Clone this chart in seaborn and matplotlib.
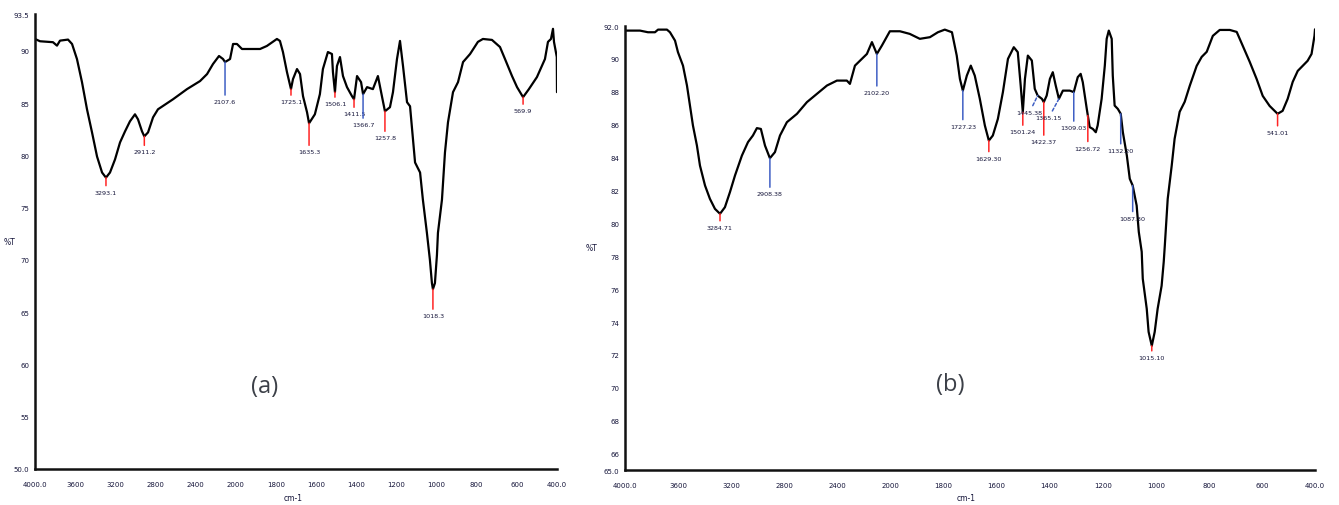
import numpy as np
import pandas as pd
import matplotlib
matplotlib.use("Agg")
import matplotlib.pyplot as plt
import seaborn as sns

# ---------------- FTIR spectrum (a) ----------------
wn_a = [4000, 3950, 3821, 3781, 3751, 3671, 3631, 3582, 3532, 3482, 3432, 3382,
        3332, 3293, 3253, 3203, 3153, 3103, 3054, 3004, 2974, 2934, 2911, 2874,
        2824, 2775, 2625, 2486, 2356, 2286, 2227, 2167, 2127, 2107, 2057, 2027,
        1994, 1969, 1879, 1845, 1795, 1780, 1765, 1745, 1725, 1715, 1695, 1680,
        1665, 1645, 1635, 1606, 1581, 1566, 1541, 1521, 1516, 1506, 1496, 1481,
        1466, 1446, 1421, 1411, 1396, 1376, 1366, 1346, 1317, 1292, 1272, 1257,
        1232, 1217, 1197, 1182, 1167, 1147, 1132, 1107, 1082, 1068, 1048, 1033,
        1023, 1018, 1008, 998, 993, 973, 958, 943, 918, 893, 868, 833, 794, 769,
        724, 684, 659, 624, 599, 569, 540, 500, 460, 445, 430, 420, 415, 401, 400]
t_a = [91.15, 90.93, 90.84, 90.51, 90.99, 91.09, 90.67, 89.23, 87.02, 84.42, 82.21, 79.90,
       78.37, 77.88, 78.37, 79.62, 81.25, 82.31, 83.27, 83.94, 83.46, 82.31, 81.83, 82.21,
       83.65, 84.42, 85.38, 86.35, 87.12, 87.79, 88.75, 89.52, 89.23, 88.94, 89.23, 90.67,
       90.67, 90.19, 90.19, 90.48, 91.15, 90.96, 89.90, 87.98, 86.35, 87.31, 88.27, 87.79,
       85.67, 84.13, 83.08, 83.94, 85.87, 88.27, 89.90, 89.71, 87.98, 86.06, 88.56, 89.42,
       87.60, 86.54, 85.67, 85.38, 87.60, 87.02, 85.87, 86.54, 86.35, 87.60, 85.67, 84.23,
       84.62, 86.06, 89.23, 90.96, 88.56, 85.10, 84.71, 79.33, 78.37, 75.77, 72.60, 70.00,
       67.79, 67.21, 67.79, 70.48, 72.60, 75.77, 80.29, 83.17, 86.06, 87.02, 88.94, 89.71,
       90.87, 91.15, 91.06, 90.38, 89.23, 87.60, 86.54, 85.58, 86.35, 87.50, 89.23, 90.87,
       91.15, 92.12, 90.87, 89.42, 86.06]

peaks_a = [3293, 2911, 2107, 1725, 1635, 1506, 1411, 1366, 1257, 1018, 569]
peak_labels_a = ["3293.1", "2911.2", "2107.6", "1725.1", "1635.3", "1506.1",
                 "1411.5", "1366.7", "1257.8", "1018.3", "569.9"]
peak_kind_a = ["red", "red", "blue", "red", "red", "red",
               "red", "blue", "red", "red", "red"]

# ---------------- FTIR spectrum (b) ----------------
wn_b = [4000, 3887, 3827, 3774, 3751, 3684, 3661, 3623, 3601, 3563, 3533, 3510,
        3488, 3458, 3435, 3397, 3360, 3322, 3284, 3247, 3209, 3171, 3119, 3073,
        3036, 3006, 2976, 2945, 2908, 2870, 2832, 2780, 2704, 2629, 2554, 2478,
        2403, 2328, 2305, 2267, 2215, 2177, 2139, 2102, 2064, 2004, 1964, 1927,
        1889, 1851, 1821, 1795, 1768, 1750, 1738, 1727, 1712, 1697, 1682, 1663,
        1644, 1629, 1614, 1595, 1576, 1557, 1535, 1520, 1509, 1501, 1493, 1482,
        1467, 1456, 1445, 1429, 1422, 1411, 1399, 1388, 1377, 1365, 1350, 1324,
        1309, 1294, 1283, 1275, 1260, 1249, 1237, 1226, 1219, 1204, 1192, 1185,
        1177, 1166, 1162, 1155, 1143, 1132, 1124, 1109, 1098, 1087, 1072, 1064,
        1053, 1049, 1034, 1027, 1015, 1004, 993, 978, 970, 966, 955, 940, 929,
        910, 891, 872, 846, 827, 808, 785, 759, 721, 695, 672, 646, 620, 597,
        571, 541, 522, 503, 484, 465, 447, 428, 413, 402, 400]
t_b = [91.72, 91.72, 91.62, 91.62, 91.78, 91.78, 91.62, 91.11, 90.41, 89.59, 88.38, 87.16,
       85.95, 84.73, 83.51, 82.30, 81.49, 80.88, 80.58, 80.98, 81.90, 82.91, 84.12, 84.94,
       85.34, 85.79, 85.74, 84.73, 83.96, 84.33, 85.34, 86.15, 86.66, 87.37, 87.87, 88.38,
       88.68, 88.68, 88.48, 89.59, 90.00, 90.30, 91.02, 90.30, 90.81, 91.68, 91.68, 91.52,
       91.22, 91.32, 91.62, 91.78, 91.62, 90.20, 88.78, 88.07, 88.98, 89.59, 88.98, 87.57,
       85.95, 85.03, 85.34, 86.35, 87.98, 90.00, 90.71, 90.41, 88.38, 86.76, 88.78, 90.20,
       89.90, 88.18, 87.77, 87.57, 87.37, 87.77, 88.78, 89.19, 88.38, 87.57, 88.07, 88.07,
       87.98, 88.89, 89.09, 88.58, 86.96, 85.85, 85.74, 85.54, 85.95, 87.57, 89.59, 91.22,
       91.72, 91.22, 88.98, 87.16, 86.96, 86.66, 85.54, 84.12, 82.71, 82.30, 81.08, 79.48,
       78.27, 76.63, 74.80, 73.40, 72.55, 73.40, 74.80, 76.20, 77.66, 78.63, 81.49, 83.50, 85.14,
       86.78, 87.39, 88.36, 89.57, 90.12, 90.43, 91.40, 91.76, 91.76, 91.64, 90.79, 89.82, 88.78,
       87.75, 87.14, 86.66, 86.84, 87.57, 88.60, 89.27, 89.57, 89.88, 90.30, 91.40, 91.80]

peaks_b = [3284, 2908, 2102, 1727, 1629, 1501, 1445, 1422, 1365, 1309, 1256,
           1132, 1087, 1015, 541]
peak_labels_b = ["3284.71", "2908.38", "2102.20", "1727.23", "1629.30", "1501.24",
                 "1445.38", "1422.37", "1365.15", "1309.03", "1256.72",
                 "1132.20", "1087.30", "1015.10", "541.01"]
peak_kind_b = ["red", "blue", "blue", "blue", "red", "red",
               "blue", "red", "blue", "blue", "red",
               "blue", "blue", "red", "red"]

x_ticks = [4000, 3600, 3200, 2800, 2400, 2000, 1800, 1600, 1400, 1200, 1000, 800, 600, 400]
x_tick_labels = ["4000.0", "3600", "3200", "2800", "2400", "2000", "1800", "1600",
                 "1400", "1200", "1000", "800", "600", "400.0"]
y_ticks_a = [50, 55, 60, 65, 70, 75, 80, 85, 90, 93.5]
y_tick_labels_a = ["50.0", "55", "60", "65", "70", "75", "80", "85", "90", "93.5"]
y_ticks_b = [65, 66, 68, 70, 72, 74, 76, 78, 80, 82, 84, 86, 88, 90, 92]
y_tick_labels_b = ["65.0", "66", "68", "70", "72", "74", "76", "78", "80", "82",
                   "84", "86", "88", "90", "92.0"]

# ---------------- drawing ----------------
sns.set_style("white")
plt.rcParams["font.family"] = ["DejaVu Sans"]

COLORS = {"red": "#ff2424", "blue": "#3f5fc4"}
TEXT_C = "#15153a"


def fwd(w):
    # wavenumber axis with a 2:1 compression above 2000 cm-1
    w = np.asarray(w, dtype=float)
    return np.where(w > 2000, 2000 + (w - 2000) / 2.0, w)


def inv(u):
    u = np.asarray(u, dtype=float)
    return np.where(u > 2000, 2000 + (u - 2000) * 2.0, u)


fig = plt.figure(figsize=(13.39, 5.06), dpi=100)
ax_a = fig.add_axes([35 / 1339, 1 - 470 / 506, (557 - 35) / 1339, (470 - 15.4) / 506])
ax_b = fig.add_axes([625 / 1339, 1 - 471 / 506, (1315 - 625) / 1339, (471 - 27) / 506])


def style_axes(ax, ylim, yticks, ylabels):
    ax.set_xscale("function", functions=(fwd, inv))
    ax.set_xlim(4000, 400)
    ax.set_ylim(*ylim)
    ax.set_xticks(x_ticks)
    ax.set_xticklabels(x_tick_labels)
    ax.set_yticks(yticks)
    ax.set_yticklabels(ylabels)
    ax.minorticks_off()
    sns.despine(ax=ax)
    for side in ("left", "bottom"):
        ax.spines[side].set_linewidth(1.8)
        ax.spines[side].set_color("#111111")
    ax.tick_params(axis="y", length=2.5, width=1.0, pad=1.5, labelsize=5,
                   labelcolor=TEXT_C, color="#111111")
    ax.tick_params(axis="x", length=0, pad=9, labelsize=5, labelcolor=TEXT_C)
    ax.set_xlabel("cm-1", fontsize=5.5, color=TEXT_C)
    ax.xaxis.set_label_coords(0.495, -0.052)
    ax.set_ylabel("%T", fontsize=5.5, color=TEXT_C, rotation=0)
    ax.yaxis.set_label_coords(-0.048, 0.49)
    ax.grid(False)


def annotate_peaks(ax, wn, t, peaks, labels, kinds, drops, shifts):
    order = np.argsort(wn)
    wn_s = np.asarray(wn, float)[order]
    t_s = np.asarray(t, float)[order]
    for p, lab, kind, d, s in zip(peaks, labels, kinds, drops, shifts):
        tv = float(np.interp(p, wn_s, t_s))
        c = COLORS[kind]
        dashed = s != 0
        ax.annotate(lab, xy=(p, tv), xytext=(s * 0.72, -d * 0.72),
                    textcoords="offset points", ha="center", va="top",
                    fontsize=4.6, color=TEXT_C,
                    arrowprops=dict(arrowstyle="-", color=c, lw=1.1,
                                    linestyle=(0, (2, 1.5)) if dashed else "-",
                                    shrinkA=0.5, shrinkB=0))


# panel (a)
sns.lineplot(x=wn_a, y=t_a, ax=ax_a, sort=False, estimator=None,
             color="black", linewidth=1.6)
style_axes(ax_a, (50, 93.5), y_ticks_a, y_tick_labels_a)
drops_a = [12, 13, 37, 10, 26, 9, 12, 28, 24, 24, 11]
shifts_a = [0] * len(peaks_a)
annotate_peaks(ax_a, wn_a, t_a, peaks_a, peak_labels_a, peak_kind_a, drops_a, shifts_a)
ax_a.text(0.44, 0.183, "(a)", transform=ax_a.transAxes, ha="center", va="center",
          fontsize=17, color="#3c4048", family=["Open Sans", "DejaVu Sans"])

# panel (b)
sns.lineplot(x=wn_b, y=t_b, ax=ax_b, sort=False, estimator=None,
             color="black", linewidth=1.6)
style_axes(ax_b, (65, 92), y_ticks_b, y_tick_labels_b)
drops_b = [11, 33, 36, 33, 15, 17, 14, 37, 16, 33, 30, 34, 30, 9, 16]
shifts_b = [0, 0, 0, 0, 0, 0, -8, 0, -10, 0, 0, 0, 0, 0, 0]
annotate_peaks(ax_b, wn_b, t_b, peaks_b, peak_labels_b, peak_kind_b, drops_b, shifts_b)
ax_b.text(0.471, 0.194, "(b)", transform=ax_b.transAxes, ha="center", va="center",
          fontsize=17, color="#3c4048", family=["Open Sans", "DejaVu Sans"])

fig.savefig("out.png", dpi=100, facecolor="white")
